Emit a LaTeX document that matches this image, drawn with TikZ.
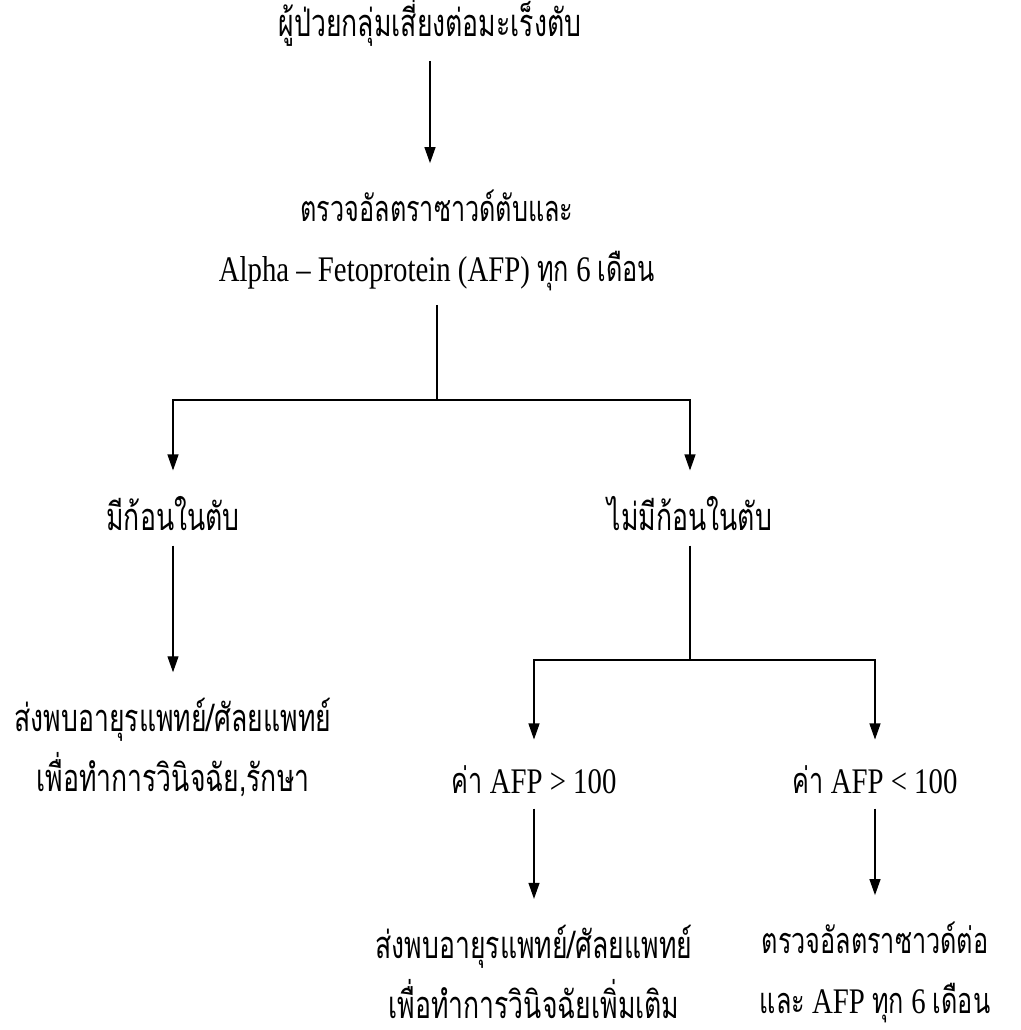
\documentclass[tikz,border=0pt]{standalone}
\usepackage{fontspec}
\setmainfont{Liberation Serif}[FakeStretch=0.8]
\newfontfamily\thaifont[Script=Thai,FakeStretch=0.7]{Loma}
\newcommand\thtxt[1]{{\thaifont #1}}
\usetikzlibrary{arrows.meta,positioning}

\tikzset{
  txt/.style={align=center, inner sep=0pt, font=\fontsize{18}{30}\selectfont},
  thai/.style={txt, font=\thaifont\fontsize{19}{30}\selectfont},
  conn/.style={line width=0.6pt, shorten <=7pt},
  arr/.style={conn, -{Triangle[length=8pt,width=5.5pt]}, shorten >=13pt},
}

\begin{document}
\begin{tikzpicture}[on grid]
    \useasboundingbox (0,0) rectangle (510.5pt,-515pt);
    \node[thai] (top) at (215pt,-11pt) {ผู้ป่วยกลุ่มเสี่ยงต่อมะเร็งตับ};
    \node[txt, below right=109pt and 3.5pt of top] (mid)
        {\thtxt{ตรวจอัลตราซาวด์ตับและ}\\Alpha – Fetoprotein (AFP) \thtxt{ทุก} 6 \thtxt{เดือน}};
    \coordinate[below=80pt of mid] (j1);
    \node[thai, below left=137pt and 132pt of mid] (yes) {มีก้อนในตับ};
    \node[thai, below right=137pt and 126.5pt of mid] (no) {ไม่มีก้อนในตับ};
    \node[thai, below=117pt of yes] (refer1)
        {ส่งพบอายุรแพทย์/ศัลยแพทย์\\เพื่อทำการวินิจฉัย,รักษา};
    \coordinate[below=73pt of no] (j2);
    \node[txt, below left=133pt and 78pt of no] (hi) {\thtxt{ค่า} AFP > 100};
    \node[txt, below right=133pt and 92.5pt of no] (lo) {\thtxt{ค่า} AFP < 100};
    \node[thai, below=96pt of hi] (refer2)
        {ส่งพบอายุรแพทย์/ศัลยแพทย์\\เพื่อทำการวินิจฉัยเพิ่มเติม};
    \node[txt, below=96pt of lo] (recheck)
        {\thtxt{ตรวจอัลตราซาวด์ต่อ}\\\thtxt{และ} AFP \thtxt{ทุก} 6 \thtxt{เดือน}};

    \draw[arr] (top) -- (top |- mid.north);
    \draw[conn] (mid) -- (j1);
    \draw[arr, shorten <=0pt] (j1) -| (yes);
    \draw[arr, shorten <=0pt] (j1) -| (no);
    \draw[arr] (yes) -- (refer1);
    \draw[conn] (no) -- (j2);
    \draw[arr, shorten <=0pt] (j2) -| (hi);
    \draw[arr, shorten <=0pt] (j2) -| (lo);
    \draw[arr] (hi) -- (refer2);
    \draw[arr] (lo) -- (recheck);
\end{tikzpicture}
\end{document}
